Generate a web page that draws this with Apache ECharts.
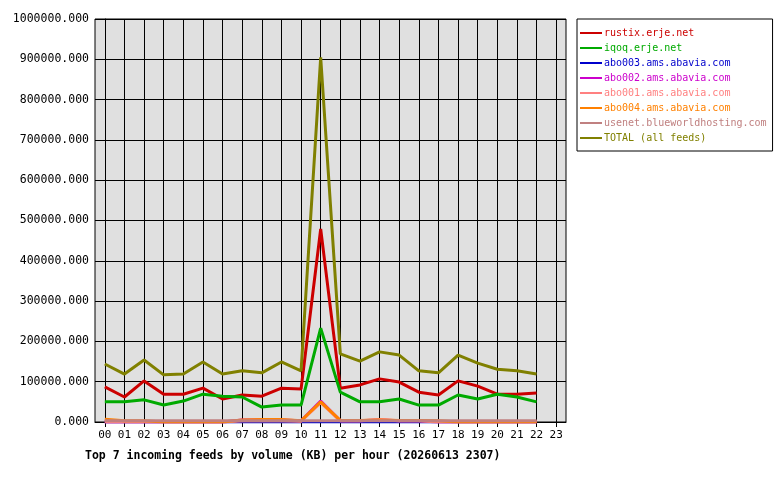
<!DOCTYPE html>
<html><head><meta charset="utf-8">
<script src="https://cdn.jsdelivr.net/npm/echarts@6/dist/echarts.min.js"></script>
<style>html,body{margin:0;background:#fff}#c{width:780px;height:480px}</style>
</head><body><div id="c"></div>
<script>
const hours = ['00','01','02','03','04','05','06','07','08','09','10','11','12','13','14','15','16','17','18','19','20','21','22','23'];
const feedNames = ['rustix.erje.net','iqoq.erje.net','abo003.ams.abavia.com','abo002.ams.abavia.com','abo001.ams.abavia.com','abo004.ams.abavia.com','usenet.blueworldhosting.com','TOTAL (all feeds)'];
const feedColors = ['#cc0000','#00aa00','#0000cc','#cc00cc','#ff8080','#ff8000','#c08080','#808000'];
const rustix = [87000,62000,102000,69000,69000,84000,57000,67000,64000,84000,82000,479000,84000,92000,107000,99000,74000,67000,102000,89000,69000,69000,72000];
const iqoq = [50000,50000,55000,42000,52000,69000,64000,62000,37000,42000,42000,233000,74000,50000,50000,57000,42000,42000,67000,57000,69000,62000,50000];
const abo003 = [0,0,0,0,0,0,0,0,0,0,0,0,0,0,0,0,0,0,0,0,0,0,0];
const abo002 = [0,0,0,0,0,0,0,5000,5000,5000,3000,52000,3000,3000,5000,3000,3000,0,0,0,0,0,0];
const abo001 = [0,0,0,0,0,0,0,3000,3000,3000,2000,48000,3000,3000,6000,3000,3000,0,0,0,0,0,0];
const abo004 = [7000,3000,3000,0,0,0,0,5000,6000,6000,3000,50000,4000,4000,5000,4000,4000,3000,0,0,0,0,0];
const usenet = [3000,3000,3000,3000,3000,3000,3000,3000,3000,3000,3000,3000,3000,3000,3000,3000,3000,3000,3000,3000,3000,3000,3000];
const total = [144000,119000,154000,117000,119000,149000,119000,127000,122000,149000,127000,905000,169000,151000,174000,166000,127000,122000,166000,146000,131000,127000,119000];
const feedData = [rustix,iqoq,abo003,abo002,abo001,abo004,usenet,total];

const chart = echarts.init(document.getElementById('c'));
const mono = 'DejaVu Sans Mono';
const series = feedNames.map((n, i) => ({
    name: n, type: 'line', symbol: 'none',
    data: feedData[i].map((v, h) => [h, v]),
    lineStyle: { width: 3, color: feedColors[i] }, itemStyle: { color: feedColors[i] }
}));
// vertical grid lines at each hour
series[0].markLine = {
    silent: true, symbol: 'none', label: { show: false }, z: 0,
    lineStyle: { color: '#000', width: 1, type: 'solid' },
    data: hours.map((h, i) => ({ xAxis: i }))
};
chart.setOption({
    animation: false,
    backgroundColor: '#fff',
    title: { text: 'Top 7 incoming feeds by volume (KB) per hour (20260613 2307)', left: 80, top: 445,
        textStyle: { fontFamily: mono, fontSize: 11.5, fontWeight: 'bold', color: '#000' } },
    legend: {
        orient: 'vertical', left: 577, top: 19,
        padding: [8, 6, 7, 3], itemGap: 3, itemWidth: 22, itemHeight: 2, icon: 'rect',
        borderColor: '#000', borderWidth: 1,
        data: feedNames.map((n, i) => ({ name: n, textStyle: { color: feedColors[i] } })),
        textStyle: { fontFamily: mono, fontSize: 10, lineHeight: 12, padding: [0, 0, 0, -3] }
    },
    grid: { left: 95, top: 19, width: 471, height: 403, backgroundColor: '#e0e0e0', show: true, borderColor: '#000', borderWidth: 1 },
    xAxis: {
        type: 'value', min: -0.5, max: 23.5,
        axisLabel: { customValues: hours.map((h, i) => i), formatter: v => hours[v], color: '#000', fontFamily: mono, fontSize: 11 },
        axisTick: { customValues: hours.map((h, i) => i), length: 5, lineStyle: { color: '#000' } },
        axisLine: { onZero: false, lineStyle: { color: '#000' } },
        splitLine: { show: false }
    },
    yAxis: {
        type: 'value', min: 0, max: 1000000, interval: 100000,
        axisLabel: { formatter: v => v.toFixed(3), color: '#000', fontFamily: mono, fontSize: 11.5, margin: 6 },
        axisTick: { show: true, length: 5, lineStyle: { color: '#000' } },
        axisLine: { show: true, lineStyle: { color: '#000' } },
        splitLine: { lineStyle: { color: '#000', width: 1 } }
    },
    series: series
});
</script></body></html>
